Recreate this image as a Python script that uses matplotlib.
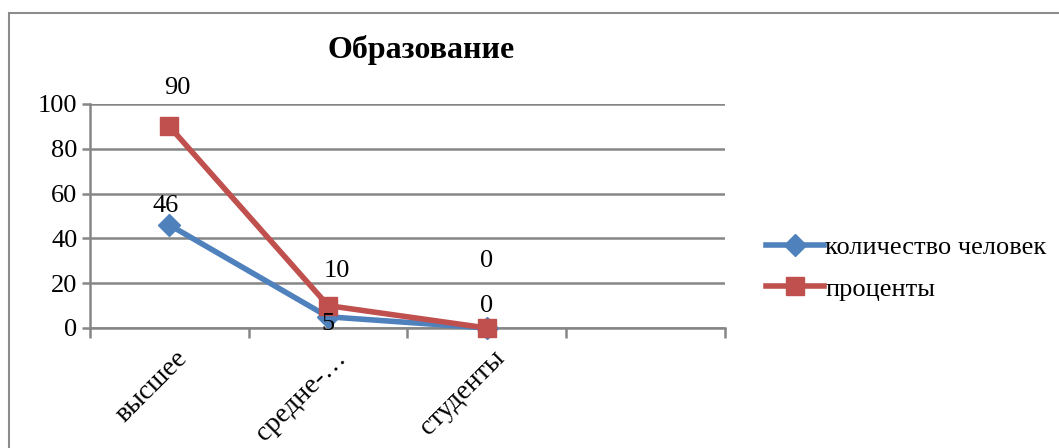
import matplotlib
matplotlib.use("Agg")
import matplotlib.pyplot as plt
import numpy as np
from matplotlib.patches import Rectangle

categories = ["высшее", "средне-…", "студенты", ""]
people = [46, 5, 0, np.nan]
percent = [90, 10, 0, np.nan]
series_names = ["количество человек", "проценты"]
yticks = [0, 20, 40, 60, 80, 100]

# label offsets (points) to mimic Excel placement
people_off = [(-3, 14), (0, -5), (0, 16)]
percent_off = [(6, 28), (6, 25), (0, 48)]

plt.rcParams['font.family'] = ['Liberation Serif', 'DejaVu Serif']

W, H = 1059, 448
fig = plt.figure(figsize=(W / 100, H / 100), dpi=100)

# outer chart border
fig.patches.append(Rectangle((9 / W, -0.1), 1.2, 1 - 13 / H + 0.1, transform=fig.transFigure,
                             fill=False, edgecolor="#8c8c8c", linewidth=1.5))

ax = fig.add_axes([90 / W, 1 - 328 / H, (725 - 90) / W, (328 - 104) / H])
x = np.arange(len(categories)) + 0.5
grid_c = "#868686"

ax.plot(x, people, color="#4F81BD", lw=4, marker="D", ms=11, label=series_names[0],
        zorder=3, solid_joinstyle="round", clip_on=False)
ax.plot(x, percent, color="#C0504D", lw=4, marker="s", ms=13, label=series_names[1],
        zorder=4, solid_joinstyle="round", clip_on=False)

fs = 19
for i, v in enumerate(people):
    if not np.isnan(v):
        ax.annotate(f"{int(v)}", (x[i], v), xytext=people_off[i], textcoords="offset points",
                    ha="center", va="center", fontsize=fs, zorder=6)
for i, v in enumerate(percent):
    if not np.isnan(v):
        ax.annotate(f"{int(v)}", (x[i], v), xytext=percent_off[i], textcoords="offset points",
                    ha="center", va="center", fontsize=fs, zorder=6)

ax.set_xlim(0, len(categories))
ax.set_ylim(0, 100)
ax.set_yticks(yticks)
ax.set_yticklabels([str(t) for t in yticks], fontsize=fs)
ax.yaxis.grid(True, color=grid_c, lw=1.8)
ax.set_axisbelow(True)
for s in ["top", "right"]:
    ax.spines[s].set_visible(False)
ax.spines["left"].set_color(grid_c)
ax.spines["left"].set_linewidth(1.8)
ax.spines["bottom"].set_color(grid_c)
ax.spines["bottom"].set_linewidth(1.8)
ax.tick_params(axis="y", length=6, width=1.8, color=grid_c, pad=3)

ax.set_xticks(np.arange(len(categories) + 1))
ax.set_xticklabels([])
ax.tick_params(axis="x", length=7, width=1.8, color=grid_c)
for i, c in enumerate(categories):
    ax.annotate(c, (x[i], 0), xytext=(4, -13), textcoords="offset points",
                rotation=45, ha="right", va="top", rotation_mode="anchor",
                fontsize=20, annotation_clip=False)

fig.text(421 / W, 1 - 50 / H, "Образование", ha="center", va="center",
         fontsize=23, fontweight="bold")

leg = fig.legend(loc="center left", bbox_to_anchor=(742 / W, 1 - 268 / H), frameon=False,
                 fontsize=19, handlelength=2.2, handletextpad=0.05, labelspacing=0.7)

fig.savefig("out.png", dpi=100)
